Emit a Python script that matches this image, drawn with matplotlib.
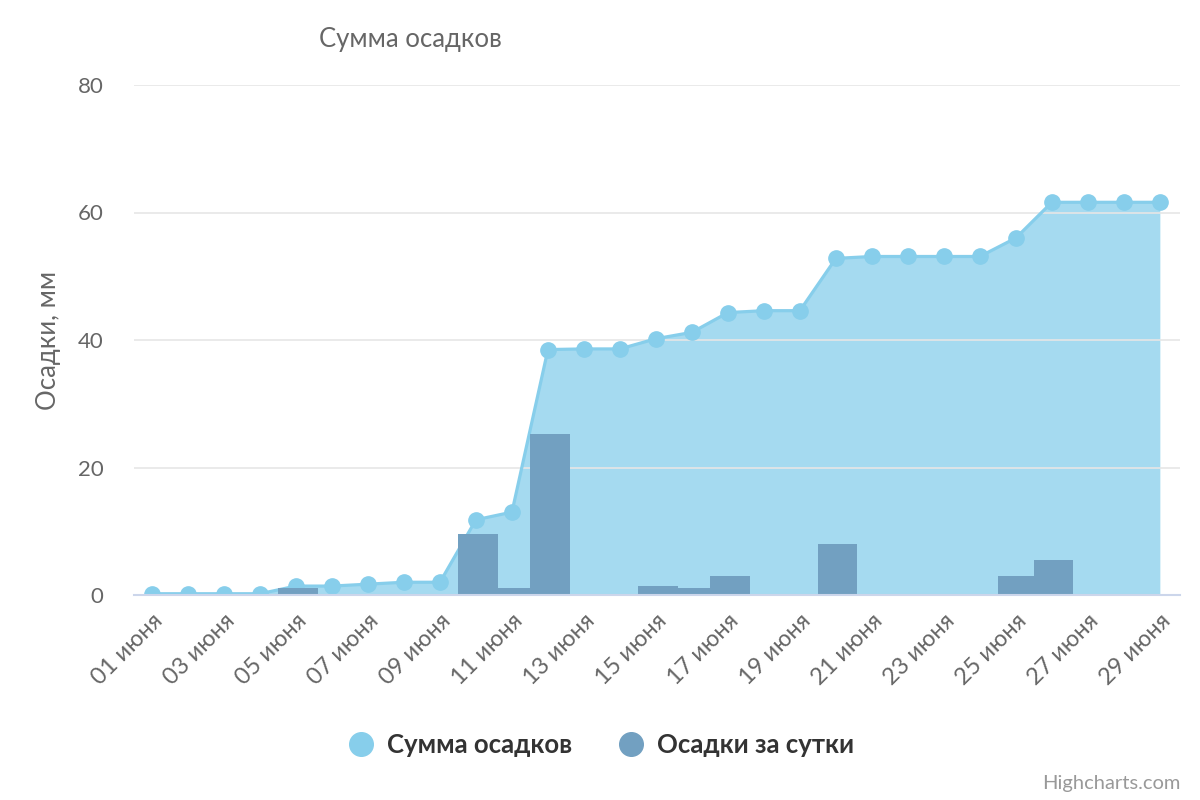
import matplotlib.pyplot as plt
from matplotlib.lines import Line2D

plt.rcParams['font.family'] = ['Lato', 'DejaVu Sans']

# Данные
dias = [f"{d:02d} июня" for d in range(1, 30)]
soma = [0.2, 0.2, 0.2, 0.2, 1.4, 1.4, 1.7, 2.0, 2.0, 11.8,
        13.0, 38.5, 38.6, 38.6, 40.2, 41.2, 44.3, 44.6, 44.6, 52.8,
        53.1, 53.1, 53.1, 53.1, 56.0, 61.6, 61.6, 61.6, 61.6]
diario = [0, 0, 0, 0, 1.1, 0, 0, 0, 0, 9.6,
          1.1, 25.3, 0, 0, 1.4, 1.1, 3.0, 0, 0, 8.0,
          0, 0, 0, 0, 3.0, 5.5, 0, 0, 0]

cor_linha = '#87ceeb'
cor_barra = '#72a0c1'

fig = plt.figure(figsize=(12, 8), dpi=100)
ax = fig.add_axes([134 / 1200, 1 - 595 / 800, (1180 - 134) / 1200, (595 - 85) / 800])

x = list(range(len(dias)))

# Área + linha
ax.fill_between(x, soma, 0, color=cor_linha, alpha=0.75, linewidth=0, zorder=2)
ax.plot(x, soma, color=cor_linha, linewidth=2.3, marker='o', markersize=11,
        zorder=3)

# Barras (uma a uma para que as posteriores fiquem por cima)
for i, v in enumerate(diario):
    if v > 0:
        ax.bar(i + 0.05, v, width=1.1, color=cor_barra, linewidth=0, zorder=4 + i * 0.01)

ax.set_xlim(-0.5, 28.56)
ax.set_ylim(0, 80)
ax.set_yticks([0, 20, 40, 60, 80])
ax.grid(axis='y', color='#e6e6e6', linewidth=1.2, zorder=1)
ax.set_axisbelow(False)

for lado in ['top', 'right', 'left']:
    ax.spines[lado].set_visible(False)
ax.spines['bottom'].set_color('#ccd6eb')
ax.spines['bottom'].set_linewidth(1.5)
ax.spines['bottom'].set_zorder(5)

ax.set_xticks(x[::2])
ax.set_xticklabels(dias[::2], rotation=45, ha='right', rotation_mode='anchor')
ax.tick_params(axis='x', length=0, pad=11, labelsize=17, labelcolor='#666666')
ax.tick_params(axis='y', length=0, pad=22, labelsize=16, labelcolor='#666666')

ax.set_ylabel('Осадки, мм', fontsize=18.5, color='#666666', labelpad=12)

fig.text(410 / 1200, 1 - 40 / 800, 'Сумма осадков', fontsize=18.5, color='#666666',
         ha='center', va='center')

# Legenda
handles = [
    Line2D([], [], linestyle='none', marker='o', markersize=17, color=cor_linha),
    Line2D([], [], linestyle='none', marker='o', markersize=17, color=cor_barra),
]
leg = fig.legend(handles, ['Сумма осадков', 'Осадки за сутки'], loc='center',
                 bbox_to_anchor=(600 / 1200, 1 - 745 / 800), ncol=2, frameon=False,
                 handletextpad=0.4, columnspacing=1.7, handlelength=1.2,
                 prop={'size': 18.5, 'weight': 'bold'})
for t in leg.get_texts():
    t.set_color('#333333')

fig.text(1180 / 1200, 1 - 784 / 800, 'Highcharts.com', fontsize=14.5, color='#999999',
         ha='right', va='center')

fig.savefig('out.png', dpi=100)
